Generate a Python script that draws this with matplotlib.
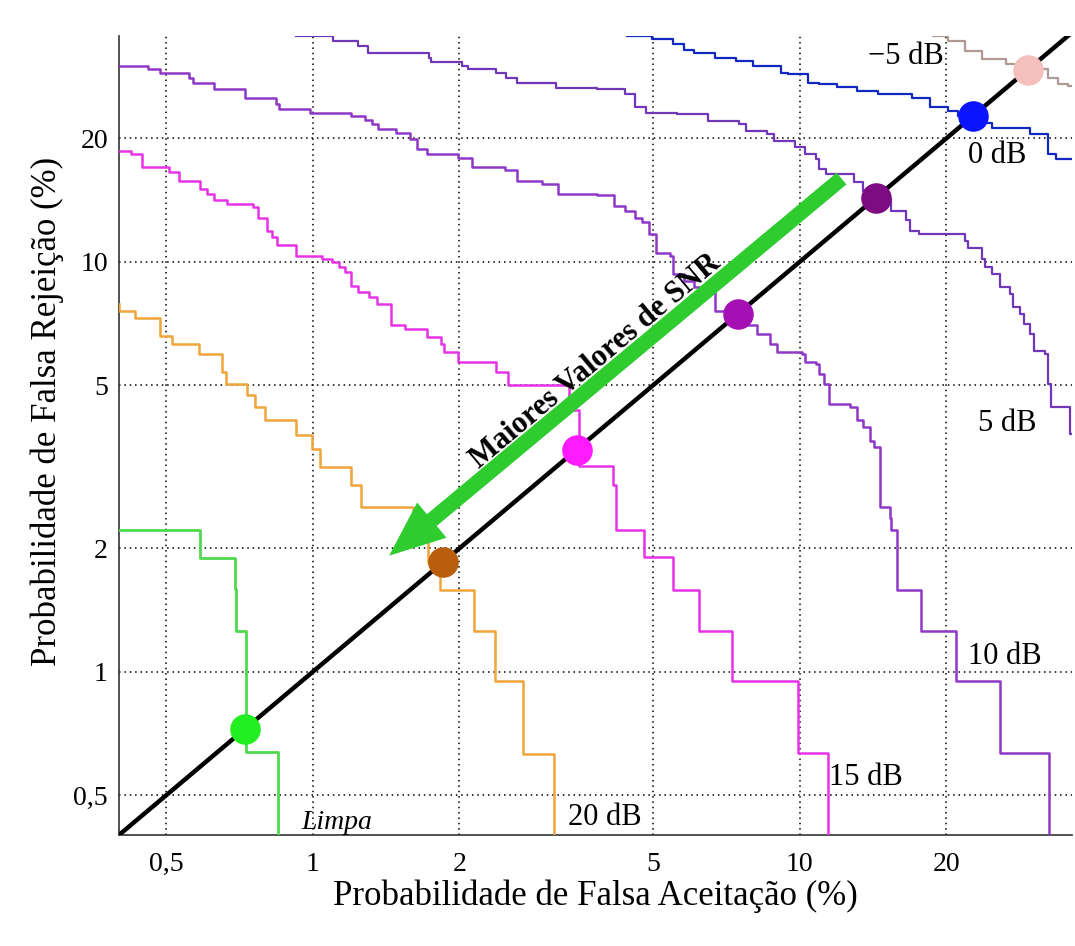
import matplotlib.pyplot as plt
from matplotlib.patches import FancyArrowPatch

plt.rcParams['font.family'] = ['Liberation Serif', 'DejaVu Serif']

# Step DET curves: start FA, FA values where the curve drops, FR levels (%)
LIMPA_START = 0.40
LIMPA_DROPS = [0.588, 0.691, 0.695, 0.729, 0.847]
LIMPA_LEVELS = [2.22, 1.89, 1.59, 1.26, 0.638, 0.38]

DB20_START = 0.40
DB20_DROPS = [0.40, 0.431, 0.486, 0.515, 0.584, 0.650, 0.662, 0.732, 0.761, 0.799,
              0.925, 0.995, 1.036, 1.195, 1.255, 1.602, 1.72, 1.824, 2.147, 2.366,
              2.695, 3.13]
DB20_LEVELS = [7.9, 7.6, 7.29, 6.6, 6.3, 5.96, 5.38, 5.04, 4.72, 4.42, 4.10, 3.77,
               3.50, 3.16, 2.85, 2.52, 2.30, 1.84, 1.586, 1.257, 0.951, 0.632, 0.38]

DB15_START = 0.40
DB15_DROPS = [0.424, 0.445, 0.506, 0.532, 0.587, 0.606, 0.626, 0.668, 0.755, 0.773,
              0.805, 0.825, 0.846, 0.925, 1.045, 1.097, 1.133, 1.162, 1.200, 1.240,
              1.302, 1.356, 1.447, 1.544, 1.717, 1.832, 1.862, 1.987, 2.377, 2.516,
              3.36, 3.52, 4.13, 4.20, 4.78, 5.50, 6.20, 7.24, 9.89, 11.4]
DB15_LEVELS = [18.6, 18.3, 16.97, 16.5, 15.75, 15.0, 14.6, 14.1, 13.8, 13.6, 12.8,
               11.9, 11.5, 11.0, 10.3, 10.15, 9.96, 9.69, 9.42, 8.74, 8.42, 8.19,
               7.89, 6.99, 6.85, 6.54, 6.30, 6.01, 5.69, 5.38, 4.99, 4.34, 3.18, 2.85,
               2.215, 1.90, 1.586, 1.257, 0.951, 0.634, 0.38]

DB10_START = 0.40
DB10_DROPS = [0.459, 0.486, 0.558, 0.568, 0.626, 0.725, 0.839, 0.853, 0.987, 1.200,
              1.28, 1.323, 1.36, 1.483, 1.582, 1.635, 1.717, 1.987, 2.121, 2.475,
              2.62, 2.95, 3.18, 3.83, 4.16, 4.37, 4.59, 4.75, 4.90, 5.07,
              5.41, 5.50, 5.78, 6.07, 6.48, 6.69, 7.03, 7.38, 7.76, 8.15,
              8.70, 8.99, 10.08, 10.25, 10.77, 10.94, 11.2, 11.5, 12.7, 13.1,
              13.5, 13.9, 14.2, 14.6, 15.3, 15.4, 15.8, 17.7, 20.9, 25.7, 32.4]
DB10_LEVELS = [30.0, 29.5, 28.9, 28.1, 27.3, 26.3, 25.1, 24.3, 23.5, 23.1,
               22.7, 22.1, 21.6, 21.1, 20.6, 19.9, 18.8, 18.3, 17.9, 16.97,
               16.7, 15.75, 15.5, 14.6, 14.5, 13.7, 13.3, 12.8, 12.5, 11.7,
               10.5, 10.3, 9.33, 8.99, 8.66, 8.50, 7.60, 7.46, 7.18, 6.99,
               6.67, 6.30, 6.01, 5.96, 5.69, 5.63, 5.33, 5.04, 4.50, 4.42,
               4.10, 3.95, 3.66, 3.53, 2.52, 2.37, 2.215, 1.586, 1.257, 0.951,
               0.634, 0.38]

DB5_START = 0.925
DB5_DROPS = [1.10, 1.24, 1.30, 1.73, 1.745, 2.02, 2.086, 2.377, 2.496, 2.62,
             3.15, 3.83, 4.37, 4.59, 4.82, 5.59, 6.48, 7.51, 7.76, 8.56,
             8.84, 9.76, 10.25, 10.77, 10.94, 11.3, 12.9, 13.5, 14.3, 15.4,
             16.5, 16.8, 17.6, 21.8, 22.1, 23.6, 24.0, 24.8, 25.7, 27.0,
             27.4, 28.3, 28.8, 29.7, 30.2, 31.8, 32.3, 32.8, 35.9]
DB5_LEVELS = [35.5, 34.5, 33.6, 32.3, 31.4, 30.7, 30.0, 29.5, 28.9, 28.1,
              27.3, 26.5, 26.3, 25.6, 23.8, 23.1, 22.9, 22.0, 21.6, 20.8,
              20.5, 19.7, 19.0, 18.3, 17.8, 16.8, 16.35, 15.6, 14.9, 14.2,
              13.3, 12.6, 11.9, 11.7, 11.2, 10.8, 10.15, 9.69, 9.33, 8.66,
              8.34, 7.74, 7.46, 7.05, 6.67, 6.07, 5.96, 5.04, 4.42, 3.80]

DB0_START = 4.41
DB0_DROPS = [4.98, 5.50, 5.78, 6.07, 6.69, 7.38, 8.01, 9.14, 9.44, 10.4, 10.94,
             11.9, 13.1, 14.5, 17.0, 18.5, 20.1, 21.1, 22.7, 24.8, 29.7, 32.3, 33.6]
DB0_LEVELS = [35.5, 35.0, 33.9, 32.9, 32.3, 31.4, 30.9, 30.0, 28.9, 28.6, 27.3,
              27.1, 26.6, 26.1, 25.6, 25.1, 23.8, 23.3, 22.7, 21.8, 21.2, 20.5,
              18.3, 17.8]

DBM5_START = 18.8
DBM5_DROPS = [20.1, 21.8, 23.6, 26.5, 29.5, 32.3, 33.9, 35.5]
DBM5_LEVELS = [35.5, 34.5, 32.6, 31.2, 30.3, 29.5, 28.1, 27.1, 26.8]

# Equal error rate points (%)
EER = [0.725, 1.85, 3.48, 7.46, 14.3, 22.7, 29.4]
EER_COLORS = ['#22ee22', '#b85e0c', '#ff1aff', '#a510b5', '#7d0c82', '#0a14ff', '#f5bfbb']

TICKS = [0.5, 1, 2, 5, 10, 20]
TICK_LABELS = ['0,5', '1', '2', '5', '10', '20']
DIAG = [0.4, 40]


def staircase(x0, drops, levels, x_end=None):
    xs = [x0]
    ys = [levels[0]]
    for d, lv in zip(drops, levels[1:]):
        xs += [d, d]
        ys += [ys[-1], lv]
    if x_end is not None:
        xs.append(x_end)
        ys.append(ys[-1])
    return xs, ys


fig = plt.figure(figsize=(10.75, 9.46), dpi=100)
ax = fig.add_axes([119 / 1075, 1 - 835 / 946, 953 / 1075, 799 / 946])
ax.set_xscale('log')
ax.set_yscale('log')

curves = [
    (LIMPA_START, LIMPA_DROPS, LIMPA_LEVELS, None, '#4fd94f', 2.0),
    (DB20_START, DB20_DROPS, DB20_LEVELS, None, '#f0a43a', 1.8),
    (DB15_START, DB15_DROPS, DB15_LEVELS, None, '#e633e6', 1.8),
    (DB10_START, DB10_DROPS, DB10_LEVELS, None, '#8f38c6', 1.8),
    (DB5_START, DB5_DROPS, DB5_LEVELS, 40, '#7038b8', 1.6),
    (DB0_START, DB0_DROPS, DB0_LEVELS, 40, '#1228c0', 1.6),
    (DBM5_START, DBM5_DROPS, DBM5_LEVELS, 40, '#b09894', 1.6),
]
for x0, drops, levels, x_end, color, lw in curves:
    xs, ys = staircase(x0, drops, levels, x_end)
    ax.plot(xs, ys, color=color, lw=lw, zorder=3)

ax.plot(DIAG, DIAG, color='black', lw=3.2, zorder=4)

for v, c in zip(EER, EER_COLORS):
    ax.plot([v], [v], 'o', color=c, markersize=22, markeredgewidth=0, zorder=5)

arrow = FancyArrowPatch((12.3, 16.1), (1.42, 1.9),
                        arrowstyle='simple,head_length=40,head_width=33,tail_width=11',
                        mutation_scale=1, color='#2ecc2e', lw=0, zorder=6)
ax.add_patch(arrow)
ax.text(3.8, 5.72, 'Maiores Valores de SNR', fontsize=22, fontweight='bold',
        rotation=40, ha='center', va='center', zorder=7)

label_kw = dict(fontsize=22, va='center', ha='left', zorder=7)
ax.text(13.8, 31.7, '\u22125 dB', **label_kw)
ax.text(22.1, 18.2, '0 dB', **label_kw)
ax.text(23.2, 4.02, '5 dB', **label_kw)
ax.text(22.1, 1.088, '10 dB', **label_kw)
ax.text(11.5, 0.551, '15 dB', **label_kw)
ax.text(3.34, 0.442, '20 dB', **label_kw)
ax.text(0.949, 0.43, 'Limpa', fontsize=20, style='italic', va='center', ha='left', zorder=7)

ax.set_xlim(0.4, 36.2)
ax.set_ylim(0.4, 35.5)
ax.set_xticks(TICKS)
ax.set_xticklabels(TICK_LABELS)
ax.set_yticks(TICKS)
ax.set_yticklabels(TICK_LABELS)
ax.minorticks_off()
ax.tick_params(length=0, labelsize=20)
ax.tick_params(axis='x', pad=12)
ax.tick_params(axis='y', pad=8)
ax.grid(True, color='black', linestyle=(0, (1, 2.5)), linewidth=1.1)
ax.set_axisbelow(True)
for side in ['top', 'right']:
    ax.spines[side].set_visible(False)
for side in ['left', 'bottom']:
    ax.spines[side].set_color('#333333')
    ax.spines[side].set_linewidth(1.2)

ax.set_xlabel('Probabilidade de Falsa Aceitação (%)', fontsize=25, labelpad=2)
ax.set_ylabel('Probabilidade de Falsa Rejeição (%)', fontsize=25)
ax.yaxis.set_label_coords(-0.058, 0.53)

fig.savefig('out.png', dpi=100)
